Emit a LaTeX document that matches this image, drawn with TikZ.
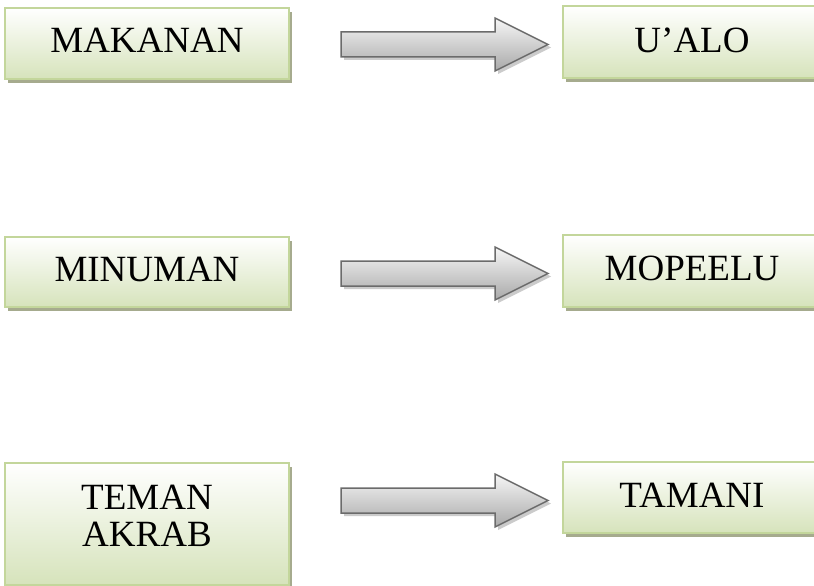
\documentclass[tikz,border=0pt]{standalone}
\usepackage{fontspec}
\setmainfont{Liberation Serif}
\usetikzlibrary{shadows}
\definecolor{boxline}{HTML}{C3D69B}
\definecolor{boxbot}{HTML}{D6E3BB}
\definecolor{boxshadow}{HTML}{A6AB8E}
\definecolor{arrline}{HTML}{6B6B6B}
\definecolor{arrtop}{HTML}{F6F6F6}
\definecolor{arrbot}{HTML}{A9A9A9}
\definecolor{arrshadow}{HTML}{CBCBCB}
\tikzset{
  box/.style={rectangle, draw=boxline, line width=1.6pt, top color=white, bottom color=boxbot,
    inner sep=0pt, general shadow={fill=boxshadow, shadow xshift=3pt, shadow yshift=-4pt}},
  lbl/.style={font=\fontsize{37}{37}\selectfont, inner sep=0pt, align=center, text=black},
  blockarrow/.pic={
    \coordinate (-tail) at (0,0);
    \coordinate (-tip) at (207,0);
    \begin{scope}[shift={(3,3)}]
      \fill[arrshadow] (0,-12.5) -- (154,-12.5) -- (154,-26.5) -- (207,0) -- (154,26.5) -- (154,12.5) -- (0,12.5) -- cycle;
    \end{scope}
    \draw[arrline, line width=1.5pt, line join=miter, top color=arrtop, bottom color=arrbot]
      (0,-12.5) -- (154,-12.5) -- (154,-26.5) -- (207,0) -- (154,26.5) -- (154,12.5) -- (0,12.5) -- cycle;
  }
}
\begin{document}
\begin{tikzpicture}[x=1pt, y=-1pt]
  \useasboundingbox (0,0) rectangle (814,586);
  \clip (0,0) rectangle (814,586);
  % row 1
  \node[box, minimum width=284pt, minimum height=71pt] (l1) at (147,43.5) {};
  \node[box, minimum width=258pt, minimum height=72pt] (r1) at (692,42) {};
  \node[lbl] (tl1) at (147,40.5) {MAKANAN};
  \node[lbl] (tr1) at (692,40.5) {U’ALO};
  \pic (a1) at (341,44.5) {blockarrow};
  % row 2
  \node[box, minimum width=284pt, minimum height=70pt] (l2) at (147,272) {};
  \node[box, minimum width=258pt, minimum height=72pt] (r2) at (692,271) {};
  \node[lbl] (tl2) at (147,269) {MINUMAN};
  \node[lbl] (tr2) at (692,268) {MOPEELU};
  \pic (a2) at (341,273.5) {blockarrow};
  % row 3
  \node[box, minimum width=284pt, minimum height=122pt] (l3) at (147,524) {};
  \node[box, minimum width=258pt, minimum height=71pt] (r3) at (692,497.5) {};
  \node[lbl] (tl3) at (147,515.5) {TEMAN\\AKRAB};
  \node[lbl] (tr3) at (692,495.5) {TAMANI};
  \pic (a3) at (341,500.5) {blockarrow};
\end{tikzpicture}
\end{document}
